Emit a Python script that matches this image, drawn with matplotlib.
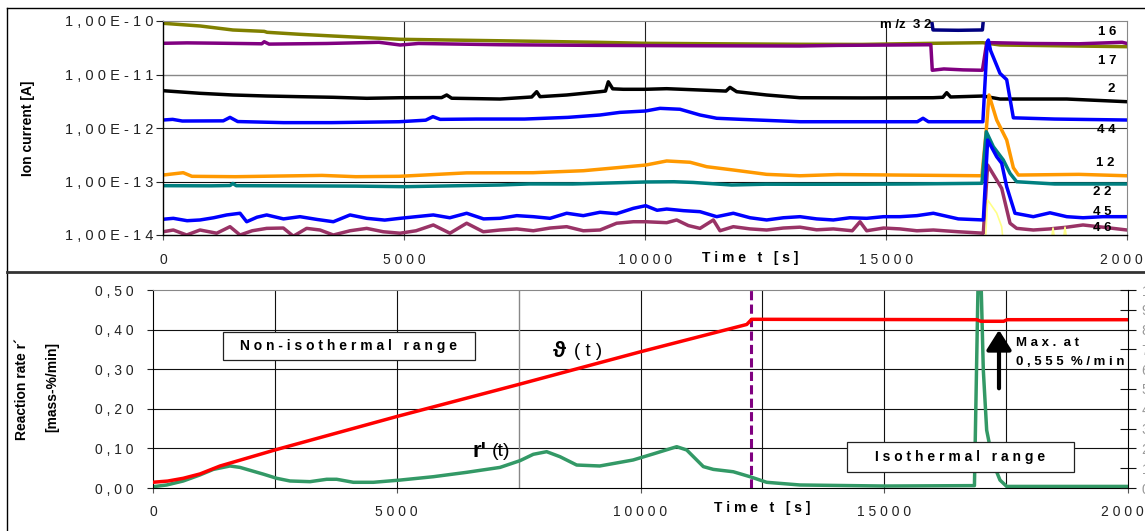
import matplotlib.pyplot as plt
from matplotlib.lines import Line2D
from matplotlib.patches import Rectangle

plt.rcParams['font.family'] = ['Liberation Sans', 'DejaVu Sans']

# upper chart: ion currents [A] against time [s], one pair per m/z
t17 = [0, 770, 1450, 2100, 2160, 2840, 3530, 4230, 4920, 6000, 7680, 9000, 10010, 11500,
       13220, 14500, 15970, 17010, 17370, 18500, 20000]
i17 = [9.06e-11, 8.07e-11, 6.79e-11, 6.4e-11, 6.15e-11, 5.64e-11, 5.24e-11, 4.88e-11, 4.55e-11,
       4.4e-11, 4.18e-11, 4.0e-11, 3.83e-11, 3.75e-11, 3.67e-11, 3.65e-11, 3.83e-11, 3.93e-11,
       3.56e-11, 3.45e-11, 3.31e-11]

t16 = [0, 500, 1100, 2050, 2100, 2200, 3400, 4480, 4920, 5300, 7000, 9000, 10800, 13220, 14000,
       15000, 15930, 15960, 16200, 16600, 17000, 17090, 18000, 19000, 19900, 20000]
i16 = [3.83e-11, 3.9e-11, 3.85e-11, 3.75e-11, 4.1e-11, 3.7e-11, 3.8e-11, 4.0e-11, 3.56e-11, 3.8e-11,
       3.6e-11, 3.5e-11, 3.45e-11, 3.41e-11, 3.5e-11, 3.55e-11, 3.6e-11, 1.2e-11, 1.27e-11, 1.22e-11,
       1.2e-11, 3.95e-11, 3.8e-11, 3.75e-11, 4.0e-11, 3.8e-11]

t32 = [15930, 15975, 16500, 17000, 17030]
i32 = [1.3e-10, 6.8e-11, 6.7e-11, 6.8e-11, 1.3e-10]

t2 = [0, 770, 1450, 2160, 2840, 3530, 4230, 4920, 5780, 5886, 5990, 6990, 7650, 7753, 7822, 8376,
      9066, 9180, 9239, 9330, 9550, 10014, 10450, 11141, 11680, 11764, 11902, 12524, 13216, 14500,
      15975, 16180, 16259, 16340, 17012, 17365, 18750, 20000]
i2 = [4.98e-12, 4.45e-12, 4.14e-12, 3.96e-12, 3.85e-12, 3.75e-12, 3.59e-12, 3.68e-12, 3.7e-12,
      4.14e-12, 3.6e-12, 3.48e-12, 3.8e-12, 4.77e-12, 3.85e-12, 4.14e-12, 4.77e-12, 4.9e-12, 7.3e-12,
      5.4e-12, 5.29e-12, 5.29e-12, 5.43e-12, 5.13e-12, 4.9e-12, 5.75e-12, 4.77e-12, 4.14e-12,
      3.68e-12, 3.65e-12, 3.68e-12, 3.75e-12, 4.57e-12, 3.8e-12, 3.96e-12, 3.48e-12, 3.48e-12, 3.1e-12]

t44 = [0, 200, 400, 1250, 1390, 1550, 2500, 3500, 4900, 5450, 5600, 5750, 6500, 7500, 8400, 9066,
       9481, 10014, 10311, 10726, 11141, 11487, 12000, 13216, 15000, 15650, 15768, 15880, 17010,
       17100, 17123, 17170, 17365, 17504, 17642, 18500, 20000]
i44 = [1.41e-12, 1.45e-12, 1.35e-12, 1.36e-12, 1.58e-12, 1.32e-12, 1.26e-12, 1.26e-12, 1.31e-12,
       1.4e-12, 1.63e-12, 1.45e-12, 1.47e-12, 1.47e-12, 1.58e-12, 1.75e-12, 1.96e-12, 2.08e-12,
       2.33e-12, 2.24e-12, 1.75e-12, 1.52e-12, 1.45e-12, 1.31e-12, 1.31e-12, 1.31e-12, 1.52e-12,
       1.31e-12, 1.31e-12, 4.0e-11, 4.41e-11, 2.8e-11, 1.05e-11, 8.0e-12, 1.55e-12, 1.47e-12, 1.41e-12]

t12 = [0, 420, 600, 1500, 3300, 4000, 4900, 6300, 7676, 8721, 9412, 10014, 10450, 10934, 11280,
       11833, 12524, 13216, 14000, 16990, 17081, 17137, 17296, 17504, 17642, 17746, 19000, 20000]
i12 = [1.32e-13, 1.46e-13, 1.25e-13, 1.23e-13, 1.3e-13, 1.23e-13, 1.25e-13, 1.45e-13, 1.46e-13,
       1.59e-13, 1.81e-13, 2.03e-13, 2.42e-13, 2.29e-13, 1.89e-13, 1.64e-13, 1.36e-13, 1.28e-13,
       1.35e-13, 1.28e-13, 9.18e-13, 4.14e-12, 1.41e-12, 5.97e-13, 1.81e-13, 1.32e-13, 1.36e-13, 1.28e-13]

t22 = [0, 1000, 1390, 1450, 1520, 2500, 4000, 5000, 6000, 7000, 7600, 8500, 10014, 10600, 11000,
       11800, 12500, 13216, 14500, 15500, 16990, 17081, 17227, 17434, 17573, 17711, 18500, 20000]
i22 = [8.35e-14, 8.3e-14, 8.4e-14, 9.2e-14, 8.35e-14, 8.3e-14, 8.2e-14, 8.0e-14, 8.3e-14, 8.6e-14,
       9.0e-14, 8.98e-14, 9.8e-14, 9.9e-14, 9.6e-14, 8.6e-14, 8.9e-14, 8.87e-14, 8.9e-14, 8.98e-14,
       9.25e-14, 8.53e-13, 4.47e-13, 2.52e-13, 1.42e-13, 9.9e-14, 8.98e-14, 8.98e-14]

t45 = [0, 214, 500, 768, 1050, 1321, 1598, 1736, 1950, 2151, 2500, 2842, 3200, 3534, 3880, 4226,
       4600, 4917, 5250, 5608, 5950, 6300, 6650, 6992, 7340, 7683, 8030, 8375, 8720, 9066, 9410,
       9758, 10014, 10250, 10450, 10800, 11141, 11487, 11832, 12180, 12524, 12870, 13216, 13560,
       13907, 14250, 14599, 14950, 15290, 15640, 15982, 16500, 17019, 17109, 17296, 17400, 17504,
       17676, 18056, 18402, 18750, 19087, 19500, 20000]
i45 = [1.97e-14, 2.05e-14, 1.85e-14, 1.91e-14, 2.1e-14, 2.37e-14, 2.55e-14, 1.77e-14, 2.15e-14,
       2.37e-14, 2.0e-14, 2.2e-14, 1.95e-14, 1.77e-14, 2.37e-14, 2.05e-14, 1.9e-14, 2.05e-14, 2.2e-14,
       2.37e-14, 2.1e-14, 2.55e-14, 2.0e-14, 2.05e-14, 2.3e-14, 2.2e-14, 2.05e-14, 2.55e-14, 2.3e-14,
       2.66e-14, 2.5e-14, 3.15e-14, 3.53e-14, 2.9e-14, 3.06e-14, 2.85e-14, 2.73e-14, 2.2e-14,
       2.55e-14, 2.1e-14, 1.91e-14, 2.1e-14, 2.2e-14, 2.0e-14, 1.91e-14, 2.1e-14, 2.05e-14, 2.2e-14,
       2.2e-14, 2.3e-14, 2.55e-14, 2.0e-14, 1.91e-14, 5.97e-13, 2.91e-13, 2.19e-13, 8.0e-14,
       2.55e-14, 2.2e-14, 2.6e-14, 2.2e-14, 2.1e-14, 2.2e-14, 2.2e-14]

t46 = [0, 214, 491, 768, 1114, 1390, 1598, 1850, 2151, 2497, 2704, 2980, 3257, 3534, 3880, 4226,
       4571, 4917, 5250, 5608, 5953, 6300, 6645, 6992, 7340, 7683, 8030, 8375, 8720, 9066, 9412,
       9758, 10014, 10450, 10657, 10900, 11141, 11418, 11556, 11832, 12180, 12524, 12870, 13216,
       13560, 13907, 14300, 14461, 14599, 14950, 15290, 15640, 15982, 16500, 17019, 17109, 17296,
       17400, 17573, 17711, 18056, 18400, 18750, 19087, 19500, 20000]
i46 = [1.15e-14, 1.24e-14, 1.0e-14, 1.24e-14, 1.08e-14, 1.43e-14, 1.0e-14, 1.2e-14, 1.33e-14,
       1.35e-14, 0.95e-14, 1.33e-14, 1.24e-14, 1.0e-14, 1.2e-14, 1.33e-14, 1.15e-14, 1.08e-14,
       1.2e-14, 1.54e-14, 1.08e-14, 1.66e-14, 1.15e-14, 1.24e-14, 1.3e-14, 1.2e-14, 1.35e-14,
       1.43e-14, 1.2e-14, 1.24e-14, 1.66e-14, 1.77e-14, 1.77e-14, 1.7e-14, 1.91e-14, 1.5e-14,
       1.33e-14, 1.91e-14, 1.2e-14, 1.43e-14, 1.3e-14, 1.24e-14, 1.35e-14, 1.4e-14, 1.25e-14,
       1.3e-14, 1.2e-14, 1.77e-14, 1.2e-14, 1.35e-14, 1.3e-14, 1.2e-14, 1.24e-14, 1.15e-14,
       1.08e-14, 2.03e-13, 1.07e-13, 7.46e-14, 1.66e-14, 1.33e-14, 1.24e-14, 1.3e-14, 1.4e-14,
       1.54e-14, 1.4e-14, 1.24e-14]

t_yel = [0, 17050, 17110, 17296, 17400, 17450, 18400, 18465, 18530, 18650, 18714, 18780, 20000]
i_yel = [5e-15, 5e-15, 4.5e-14, 2.58e-14, 1.43e-14, 5e-15, 5e-15, 1.35e-14, 5e-15, 5e-15, 1.4e-14,
         5e-15, 5e-15]

ion_ticks = [1e-14, 1e-13, 1e-12, 1e-11, 1e-10]
ion_tick_labels = ["1,00E-14", "1,00E-13", "1,00E-12", "1,00E-11", "1,00E-10"]

# lower chart: reaction rate r' [mass-%/min] and temperature theta [deg C]
t_rate = [0, 280, 620, 964, 1237, 1580, 1785, 2263, 2537, 2810, 3221, 3563, 3768, 4109, 4519, 5067,
          5750, 6435, 7118, 7528, 7801, 8075, 8349, 8691, 9164, 9847, 10257, 10743, 10948, 11289,
          11494, 11904, 12246, 12588, 13272, 15000, 16850, 16930, 16990, 17032, 17101, 17237, 17374,
          17511, 20000]
rate = [0.0033, 0.0076, 0.0177, 0.033, 0.047, 0.0556, 0.052, 0.035, 0.0245, 0.0177, 0.016, 0.022,
        0.022, 0.0144, 0.0144, 0.020, 0.0285, 0.0396, 0.052, 0.069, 0.0851, 0.0917, 0.079, 0.058,
        0.0556, 0.0707, 0.0859, 0.1043, 0.096, 0.054, 0.047, 0.041, 0.0285, 0.0144, 0.0076, 0.005,
        0.006, 0.555, 0.50, 0.298, 0.146, 0.062, 0.020, 0.004, 0.004]

t_theta = [0, 300, 620, 964, 1374, 2500, 5000, 7500, 10000, 12180, 12280, 16900, 16980, 17450, 17520,
           20000]
theta = [29, 35, 49, 71, 111, 192, 361, 523, 688, 826, 852, 850, 842, 842, 850, 850]

t_switch = 12267  # end of the heating ramp

time_ticks = [0, 5000, 10000, 15000, 20000]
time_tick_labels = ["0", "5000", "10000", "15000", "20000"]
rate_ticks = [0.0, 0.1, 0.2, 0.3, 0.4, 0.5]
rate_tick_labels = ["0,00", "0,10", "0,20", "0,30", "0,40", "0,50"]
theta_ticks = [0, 100, 200, 300, 400, 500, 600, 700, 800, 900, 1000]


def spaced(s):
    # the chart prints every character with a gap after it
    return " ".join(s)


W, H = 1145, 531


def fx(x):
    return x / W


def fy(y):
    return 1 - y / H


fig = plt.figure(figsize=(W / 100, H / 100), dpi=100)

# outer frame of the two panels
fig.add_artist(Line2D([fx(7), fx(7)], [0, fy(8)], color='k', lw=1.0))
fig.add_artist(Line2D([fx(7), 1], [fy(8), fy(8)], color='k', lw=1.0))
fig.add_artist(Line2D([fx(7), 1], [fy(271.5), fy(271.5)], color='#333333', lw=2.0))

# ---------------- upper panel ----------------
ax1 = fig.add_axes([fx(163), fy(235), (1127 - 163) / W, (235 - 21) / H])
ax1.set_yscale('log')
ax1.set_xlim(0, 20000)
ax1.set_ylim(1e-14, 1e-10)
ax1.minorticks_off()

ax1.axhline(1e-11, color='#888888', lw=1.0, zorder=0)
ax1.axhline(1e-12, color='#333333', lw=0.8, zorder=0)
ax1.axhline(1e-13, color='#111111', lw=0.8, zorder=0)
for xv in [5000, 10000, 15000]:
    ax1.axvline(xv, color='#222222', lw=0.8, zorder=0)

lw = 2.5
ax1.plot(t17, i17, color='#808000', lw=lw)
ax1.plot(t16, i16, color='#800080', lw=lw)
ax1.plot(t32, i32, color='#000080', lw=lw)
ax1.plot(t2, i2, color='black', lw=lw)
ax1.plot(t12, i12, color='#FF9900', lw=lw)
ax1.plot(t22, i22, color='#008080', lw=lw)
ax1.plot(t46, i46, color='#993366', lw=lw)
ax1.plot(t45, i45, color='#0000FF', lw=lw)
ax1.plot(t44, i44, color='#0000FF', lw=lw)
ax1.plot(t_yel, i_yel, color='#FFFF88', lw=1.2)

ax1.set_yticks(ion_ticks)
ax1.set_yticklabels([spaced(s) for s in ion_tick_labels])
ax1.set_xticks(time_ticks)
ax1.set_xticklabels([spaced(s) for s in time_tick_labels])
ax1.tick_params(axis='x', direction='out', length=3.6, width=0.8, pad=9, labelsize=10,
                color='#555555', labelcolor='#222222')
ax1.tick_params(axis='y', direction='out', length=5, width=0.8, pad=2, labelsize=10.5,
                color='#222222', labelcolor='#222222')
ax1.spines['top'].set_color('#888888')
ax1.spines['right'].set_color('#888888')
for side in ['left', 'bottom']:
    ax1.spines[side].set_color('black')
    ax1.spines[side].set_linewidth(1.0)

fig.text(fx(28), fy(128), "Ion current [A]", rotation=90, ha='center', va='center',
         fontsize=10, fontweight='bold')
fig.text(fx(750), fy(258), spaced("Time t [s]"), ha='center', va='center',
         fontsize=10, fontweight='bold')

# m/z labels at the right end of the traces
mz_labels = [("1 6", 1107.5, 32.3), ("1 7", 1107.5, 61), ("2", 1111.5, 89.3),
             ("4 4", 1106.5, 130), ("1 2", 1105, 163.3), ("2 2", 1102.5, 191.7),
             ("4 5", 1102, 211.7), ("4 6", 1102.5, 228.3)]
for txt, x, y in mz_labels:
    fig.text(fx(x), fy(y), txt, ha='center', va='center', fontsize=9.5, fontweight='bold')
fig.text(fx(880), fy(25), "m /z  3 2", ha='left', va='center', fontsize=9.5, fontweight='bold')

# ---------------- lower panel ----------------
ax2 = fig.add_axes([fx(153), fy(488), (1128 - 153) / W, (488 - 290) / H])
ax2.set_xlim(0, 20000)
ax2.set_ylim(0, 0.5)

for yv in [0.1, 0.2, 0.3, 0.4]:
    ax2.axhline(yv, color='#111111', lw=0.8, zorder=0)
for xv in [2500, 5000, 10000, 12500, 15000, 17500]:
    ax2.axvline(xv, color='#111111', lw=0.8, zorder=0)
ax2.axvline(7500, color='#888888', lw=1.0, zorder=0)

ax2.plot(t_rate, rate, color='#339966', lw=2.5, zorder=2)
ax2.axvline(t_switch, color='#800080', lw=2.2, dashes=(3, 1.4), zorder=3)

ax2.set_xticks(time_ticks)
ax2.set_xticklabels([spaced(s) for s in time_tick_labels])
ax2.set_yticks(rate_ticks)
ax2.set_yticklabels([spaced(s) for s in rate_tick_labels])
ax2.tick_params(axis='x', direction='out', length=3.6, width=0.8, pad=8.6, labelsize=10,
                color='#555555', labelcolor='#222222')
ax2.tick_params(axis='y', direction='out', length=4.3, width=0.8, pad=9.5, labelsize=10,
                color='#222222', labelcolor='#222222')
ax2.spines['top'].set_color('#888888')
ax2.spines['right'].set_visible(False)


def to_t(x):
    return (x - 153) / 975 * 20000


def to_r(y):
    return (488 - y) / 396


boxes = [("Non-isothermal range", 223, 475, 331.7, 360),
         ("Isothermal range", 846.7, 1074.3, 441.7, 471.7)]
for txt, x0, x1, y0, y1 in boxes:
    ax2.add_patch(Rectangle((to_t(x0), to_r(y1)), to_t(x1) - to_t(x0), to_r(y0) - to_r(y1),
                            facecolor='white', edgecolor='#222222', lw=0.9, zorder=5))
    ax2.text((to_t(x0) + to_t(x1)) / 2, (to_r(y0) + to_r(y1)) / 2, spaced(txt),
             ha='center', va='center', fontsize=10, fontweight='bold', zorder=6)

ax2.text(to_t(553), to_r(351.7), "ϑ", ha='left', va='center', fontsize=16, fontweight='bold')
ax2.text(to_t(574), to_r(351.7), "( t )", ha='left', va='center', fontsize=13.5)
ax2.text(to_t(472), to_r(451.7), "r'", ha='left', va='center', fontsize=16, fontweight='bold')
ax2.text(to_t(492), to_r(451.7), "(t)", ha='left', va='center', fontsize=14)

ax2.annotate('', xy=(to_t(999), to_r(330)), xytext=(to_t(999), to_r(388.3)),
             arrowprops=dict(arrowstyle='-|>,head_length=0.6,head_width=0.38', lw=3,
                             color='black', shrinkA=0, shrinkB=0, mutation_scale=20),
             zorder=6)
ax2.text(to_t(1016), to_r(343.3), "M a x .  a t", ha='left', va='center', fontsize=9.5,
         fontweight='bold')
ax2.text(to_t(1016), to_r(361.7), "0 , 5 5 5  % / m i n", ha='left', va='center', fontsize=9.5,
         fontweight='bold')

# temperature on the right-hand axis
ax3 = ax2.twinx()
ax3.set_ylim(0, 1000)
ax3.plot(t_theta, theta, color='#FF0000', lw=2.5)
ax3.set_yticks(theta_ticks)
ax3.tick_params(axis='y', direction='inout', length=11.5, width=0.8, pad=4, labelsize=10,
                color='#111111', labelcolor='#999999')
for side in ['top', 'left', 'bottom']:
    ax3.spines[side].set_visible(False)
ax3.spines['right'].set_color('black')

fig.text(fx(22), fy(389), "Reaction rate r´", rotation=90, ha='center', va='center',
         fontsize=10, fontweight='bold')
fig.text(fx(52), fy(387), "[mass-%/min]", rotation=90, ha='center', va='center',
         fontsize=10, fontweight='bold')
fig.text(fx(762), fy(508), spaced("Time t [s]"), ha='center', va='center',
         fontsize=10, fontweight='bold')

fig.savefig('out.png', dpi=100)
